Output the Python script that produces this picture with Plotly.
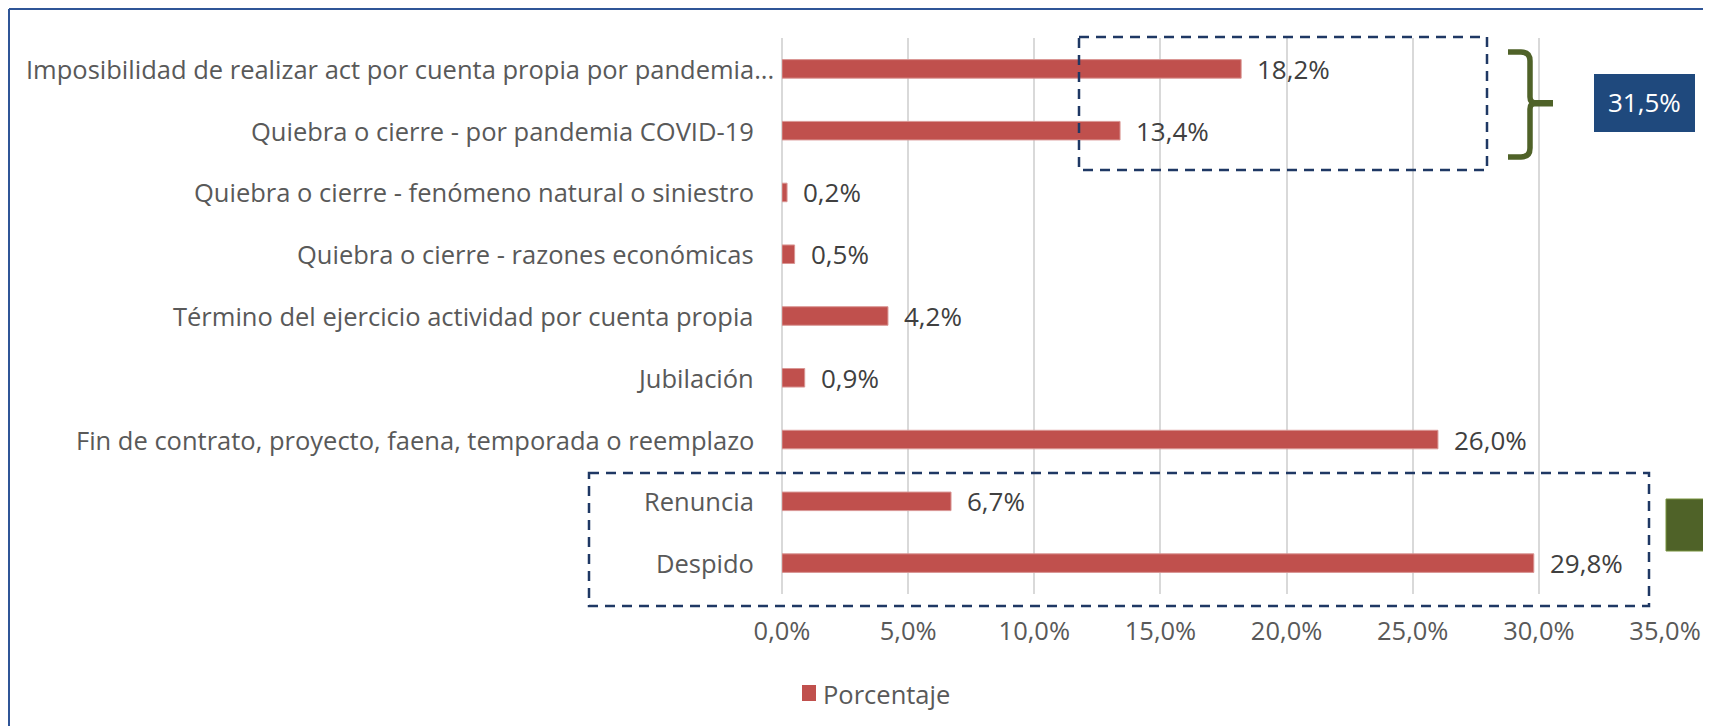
import plotly.graph_objects as go

# ---- data ----
categories = [
    "Imposibilidad de realizar act por cuenta propia por pandemia...",
    "Quiebra o cierre - por pandemia COVID-19",
    "Quiebra o cierre - fenómeno natural o siniestro",
    "Quiebra o cierre - razones económicas",
    "Término del ejercicio actividad por cuenta propia",
    "Jubilación",
    "Fin de contrato, proyecto, faena, temporada o reemplazo",
    "Renuncia",
    "Despido",
]
values = [18.2, 13.4, 0.2, 0.5, 4.2, 0.9, 26.0, 6.7, 29.8]
series_name = "Porcentaje"
group_total_label = "31,5%"
x_tickvals = [0, 5, 10, 15, 20, 25, 30, 35]
x_ticktext = [f"{v:.1f}".replace(".", ",") + "%" for v in x_tickvals]

# ---- layout constants (page pixels) ----
OFF = 8                      # default body margin of the html page
WIN_W, WIN_H = 1711, 726
W, H = WIN_W - OFF, WIN_H - OFF
PL, PR, PT, PB = 782, 1665, 38, 594  # plot area in page pixels

def px(x):
    return (x - PL) / (PR - PL)

def py(y):
    return (PB - y) / (PB - PT)

FONT = "Open Sans"
FS = 25.5
BAR = "#C0504D"
BLUE_BORDER = "#2F5597"
DASH = "#1F3864"
GREEN = "#4F6228"
NAVY = "#1F497D"
DASHSTYLE = "10px,7px"

fig = go.Figure()
fig.add_trace(go.Bar(
    x=values, y=categories, orientation="h", name=series_name,
    marker=dict(color=BAR, line=dict(color="#D99694", width=1)),
    width=0.3,
    hoverinfo="x+y",
    showlegend=False,
))

annotations = []
# category labels (the truncated first one overflows further right, as in the original)
for i, c in enumerate(categories):
    annotations.append(dict(
        x=px(776 if i == 0 else 756), y=c, xref="paper", yref="y",
        showarrow=False, text=c, xanchor="right", yanchor="middle",
        font=dict(family=FONT, size=FS, color="#595959"),
    ))
# value labels
for c, v in zip(categories, values):
    annotations.append(dict(
        x=v, y=c, xref="x", yref="y", showarrow=False,
        text=f"{v:.1f}".replace(".", ",") + "%",
        xanchor="left", yanchor="middle", xshift=14,
        font=dict(family=FONT, size=26, color="#404040"),
    ))

# 31,5% label box text
annotations.append(dict(
    x=px(1644), y=py(102), xref="paper", yref="paper", showarrow=False,
    text=group_total_label, xanchor="center", yanchor="middle",
    font=dict(family=FONT, size=26, color="white"),
))

# legend (manual, to match the square marker size)
annotations.append(dict(
    x=px(821), y=py(694), xref="paper", yref="paper", showarrow=False,
    text=series_name, xanchor="left", yanchor="middle",
    font=dict(family=FONT, size=FS, color="#595959"),
))

shapes = []
# legend square
shapes.append(dict(type="rect", xref="paper", yref="paper",
                   x0=px(802), x1=px(816), y0=py(685), y1=py(701),
                   fillcolor=BAR, line=dict(width=0)))
# outer frame lines (top and left)
shapes.append(dict(type="line", xref="paper", yref="paper",
                   x0=px(9), x1=px(WIN_W + 5), y0=py(9), y1=py(9),
                   line=dict(color=BLUE_BORDER, width=2)))
shapes.append(dict(type="line", xref="paper", yref="paper",
                   x0=px(9), x1=px(9), y0=py(9), y1=py(WIN_H + 5),
                   line=dict(color=BLUE_BORDER, width=2)))
# dashed box top
shapes.append(dict(type="rect", xref="paper", yref="paper",
                   x0=px(1079), x1=px(1487), y0=py(37), y1=py(170),
                   line=dict(color=DASH, width=2.5, dash=DASHSTYLE)))
# dashed box bottom
shapes.append(dict(type="rect", xref="paper", yref="paper",
                   x0=px(589), x1=px(1649), y0=py(473), y1=py(606),
                   line=dict(color=DASH, width=2.5, dash=DASHSTYLE)))
# brace
bx0, bxv, bxt = 1508, 1530, 1553
by0, bym, by1 = 52, 103, 157
r = 9
path = (
    f"M{px(bx0)},{py(by0)} "
    f"L{px(bxv - r)},{py(by0)} "
    f"Q{px(bxv)},{py(by0)} {px(bxv)},{py(by0 + r)} "
    f"L{px(bxv)},{py(bym - 6)} "
    f"Q{px(bxv)},{py(bym)} {px(bxv + 6)},{py(bym)} "
    f"Q{px(bxv)},{py(bym)} {px(bxv)},{py(bym + 6)} "
    f"L{px(bxv)},{py(by1 - r)} "
    f"Q{px(bxv)},{py(by1)} {px(bxv - r)},{py(by1)} "
    f"L{px(bx0)},{py(by1)}"
)
shapes.append(dict(type="path", xref="paper", yref="paper", path=path,
                   line=dict(color=GREEN, width=5.5)))
shapes.append(dict(type="rect", xref="paper", yref="paper",
                   x0=px(bxv), x1=px(bxt), y0=py(bym - 3), y1=py(bym + 3.5),
                   fillcolor=GREEN, line=dict(width=0)))
# navy box
shapes.append(dict(type="rect", xref="paper", yref="paper",
                   x0=px(1594), x1=px(1695), y0=py(74), y1=py(132),
                   fillcolor=NAVY, line=dict(width=0)))
# green box at right
shapes.append(dict(type="rect", xref="paper", yref="paper",
                   x0=px(1666), x1=px(WIN_W + 10), y0=py(499), y1=py(551),
                   fillcolor=GREEN, line=dict(color="#76923C", width=1)))

fig.update_layout(
    width=W, height=H,
    margin=dict(l=PL - OFF, r=WIN_W - PR, t=PT - OFF, b=WIN_H - PB,
                pad=0, autoexpand=False),
    paper_bgcolor="white", plot_bgcolor="white",
    font=dict(family=FONT, size=FS, color="#595959"),
    showlegend=False,
    xaxis=dict(range=[0, 35], tickvals=x_tickvals, ticktext=x_ticktext,
               showgrid=True, gridcolor="#D9D9D9", gridwidth=2,
               zeroline=True, zerolinecolor="#D9D9D9", zerolinewidth=2,
               showline=False, ticks="", ticklabelstandoff=19,
               automargin=False,
               tickfont=dict(family=FONT, size=FS, color="#595959")),
    yaxis=dict(categoryorder="array", categoryarray=categories,
               autorange="reversed", showgrid=False, zeroline=False,
               showline=False, ticks="", showticklabels=False,
               automargin=False),
    annotations=annotations,
    shapes=shapes,
)

fig.write_html("out.html")
